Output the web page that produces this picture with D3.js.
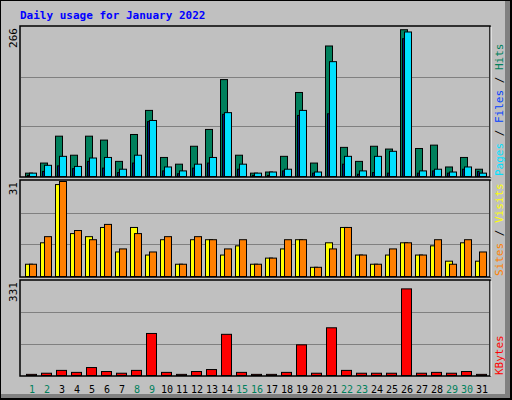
<!DOCTYPE html>
<html><head><meta charset="utf-8">
<script src="https://cdn.jsdelivr.net/npm/d3@7"></script>
<style>body{margin:0;background:#fff}text{font-family:"DejaVu Sans Mono",monospace}</style>
</head><body><svg id="c" width="512" height="400"></svg>
<script>
var days = d3.range(1, 32);
var weekends = [1, 2, 8, 9, 15, 16, 22, 23, 29, 30];
var hits = [6,24,72,38,72,65,27,75,118,34,22,54,84,173,38,6,8,36,150,24,233,52,27,54,49,262,50,56,17,34,13];
var pages = [6,20,36,18,33,34,13,38,100,17,10,22,34,114,22,6,8,13,118,8,205,36,10,36,45,258,10,13,8,17,6];
var files = [2,9,19,14,27,15,7,24,98,10,5,15,24,111,13,2,2,10,109,6,112,22,4,7,6,246,6,10,6,13,9];
var visits = [4,11,30,14,13,16,8,16,7,12,4,12,12,7,10,4,6,9,12,3,11,16,7,4,7,11,7,10,5,11,5];
var sites = [4,13,31,15,12,17,9,14,8,13,4,13,12,9,12,4,6,12,12,3,9,16,7,4,9,11,7,12,4,12,8];
var kbytes = [4,8,18,11,28,14,8,18,148,11,4,14,21,145,11,4,4,11,108,8,168,18,8,8,8,305,8,11,8,14,4];
var maxHits = 266, maxVisits = 31, maxKB = 331;

var svg = d3.select('#c');
// frame
svg.append('rect').attr('x', 0).attr('y', 0).attr('width', 512).attr('height', 400).attr('fill', '#000');
svg.append('rect').attr('x', 1).attr('y', 1).attr('width', 509).attr('height', 397).attr('fill', '#c0c0c0');
svg.append('rect').attr('x', 505).attr('y', 1).attr('width', 5).attr('height', 397).attr('fill', '#808080');
svg.append('rect').attr('x', 1).attr('y', 394).attr('width', 509).attr('height', 4).attr('fill', '#808080');

svg.append('text').attr('x', 20).attr('y', 19).attr('fill', '#0000ff')
  .attr('font-size', 11).attr('font-weight', 'bold').text('Daily usage for January 2022');

var x = d3.scaleBand().domain(days).range([25, 490]).paddingInner(0);
// x(d) gives left of each 15px slot

function panel(top, bottom, max) {
  var y = d3.scaleLinear().domain([0, max]).range([bottom, top]);
  svg.append('rect').attr('x', 20).attr('y', top - 1).attr('width', 470).attr('height', bottom - top + 2)
    .attr('fill', 'none').attr('stroke', '#000').attr('stroke-width', 1.5);
  svg.append('line').attr('x1', 491).attr('x2', 491).attr('y1', top).attr('y2', bottom + 1).attr('stroke', '#fff');
  svg.selectAll(null).data([max / 3, 2 * max / 3]).enter().append('line')
    .attr('x1', 21).attr('x2', 489).attr('y1', function(d) { return Math.round(y(d)) + 0.5; })
    .attr('y2', function(d) { return Math.round(y(d)) + 0.5; }).attr('stroke', '#808080');
  svg.append('text').attr('transform', 'translate(17,' + (top + 1) + ') rotate(-90)')
    .attr('text-anchor', 'end').attr('font-size', 11).attr('fill', '#000').text(max);
  return y;
}

function bars(data, y, dx, w, color) {
  svg.append('g').selectAll('rect').data(data).enter().append('rect')
    .attr('x', function(d, i) { return x(days[i]) + dx + 0.5; })
    .attr('y', function(d) { return y(d) + 0.5; })
    .attr('width', w)
    .attr('height', function(d, i) { return y(0) - y(d); })
    .attr('fill', color).attr('stroke', '#000').attr('stroke-width', 1);
}

var y1 = panel(27, 176, maxHits);
bars(hits, y1, 0, 7, '#00805c');
bars(pages, y1, 4, 7, '#00e0ff');
bars(files, y1, 2, 1.5, '#0040ff');

var y2 = panel(181, 276, maxVisits);
bars(visits, y2, 0, 7, '#ffff00');
bars(sites, y2, 4, 7, '#ff8000');

var y3 = panel(281, 375, maxKB);
bars(kbytes, y3, 1, 10, '#ff0000');

svg.selectAll('.day').data(days).enter().append('text')
  .attr('x', function(d) { return x(d) + 7; }).attr('y', 393)
  .attr('text-anchor', 'middle').attr('font-size', 10)
  .attr('fill', function(d) { return weekends.indexOf(d) >= 0 ? '#00805c' : '#000'; })
  .text(function(d) { return d; });

function sideLabel(yStart, parts) {
  var t = svg.append('text').attr('transform', 'translate(503,' + yStart + ') rotate(-90)')
    .attr('font-size', 11);
  parts.forEach(function(p) { t.append('tspan').attr('fill', p[1]).text(p[0]); });
}
sideLabel(176, [['Pages', '#00e0ff'], [' / ', '#000'], ['Files', '#0040ff'], [' / ', '#000'], ['Hits', '#00805c']]);
sideLabel(276, [['Sites', '#ff8000'], [' / ', '#000'], ['Visits', '#ffff00']]);
sideLabel(375, [['KBytes', '#ff0000']]);
</script></body></html>
